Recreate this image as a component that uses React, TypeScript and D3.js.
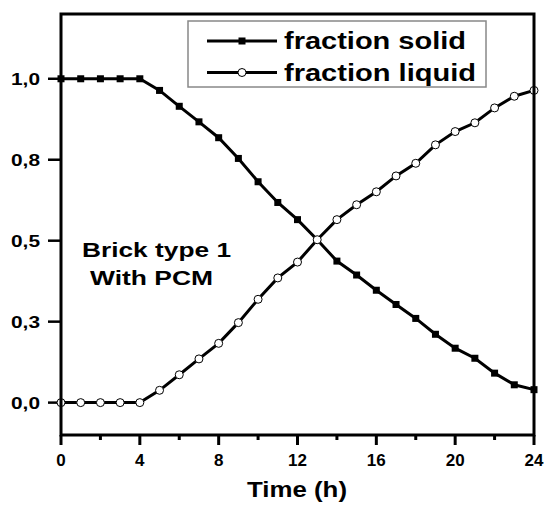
import React, { useEffect, useRef } from "react";
import * as d3 from "d3";

const W = 545;
const H = 509;
const margin = { top: 14, right: 11, bottom: 74, left: 61 };

const hours = d3.range(0, 25);
const fractionSolid = [
  1.0, 1.0, 1.0, 1.0, 1.0, 0.964, 0.915, 0.867, 0.818, 0.754, 0.682, 0.618, 0.565,
  0.503, 0.437, 0.394, 0.347, 0.303, 0.26, 0.211, 0.168, 0.137, 0.091, 0.055, 0.04,
];
const fractionLiquid = [
  0.0, 0.0, 0.0, 0.0, 0.0, 0.038, 0.086, 0.135, 0.183, 0.247, 0.319, 0.385, 0.434,
  0.503, 0.565, 0.611, 0.651, 0.7, 0.739, 0.796, 0.837, 0.864, 0.91, 0.946, 0.964,
];
const xTicks = [0, 4, 8, 12, 16, 20, 24];
const xMinorTicks = [2, 6, 10, 14, 18, 22];
const yTicks = [0, 0.25, 0.5, 0.75, 1.0];
const yTickLabels = ["0,0", "0,3", "0,5", "0,8", "1,0"];
const seriesNames = ["fraction solid", "fraction liquid"];
const noteLines = ["Brick type 1", "With PCM"];

const FONT = "'Liberation Sans', Arial, sans-serif";

export default function App() {
  const ref = useRef<SVGSVGElement>(null);

  useEffect(() => {
    const root = d3.select(ref.current);
    root.selectAll("*").remove();

    const width = W - margin.left - margin.right;
    const height = H - margin.top - margin.bottom;

    const x = d3.scaleLinear().domain([0, 24]).range([0, width]);
    const y = d3.scaleLinear().domain([-0.1, 1.2]).range([height, 0]);

    const svg = root.append("g")
      .attr("transform", "translate(" + margin.left + "," + margin.top + ")");

    // x axis ticks (major + minor) pointing outward
    const xAxis = svg.append("g").attr("transform", "translate(0," + height + ")");
    xAxis.selectAll(".major")
      .data(xTicks)
      .enter().append("line")
      .attr("x1", (d) => x(d)).attr("x2", (d) => x(d))
      .attr("y1", 0).attr("y2", 10)
      .attr("stroke", "#000").attr("stroke-width", 3);
    xAxis.selectAll(".minor")
      .data(xMinorTicks)
      .enter().append("line")
      .attr("x1", (d) => x(d)).attr("x2", (d) => x(d))
      .attr("y1", 0).attr("y2", 5)
      .attr("stroke", "#000").attr("stroke-width", 3);
    xAxis.selectAll("text")
      .data(xTicks)
      .enter().append("text")
      .attr("x", (d) => x(d))
      .attr("y", 31)
      .attr("text-anchor", "middle")
      .style("font-family", FONT)
      .style("font-weight", "bold")
      .style("font-size", "17px")
      .text((d) => d);

    // y axis ticks
    const yAxis = svg.append("g");
    yAxis.selectAll("line")
      .data(yTicks)
      .enter().append("line")
      .attr("x1", -13).attr("x2", 0)
      .attr("y1", (d) => y(d)).attr("y2", (d) => y(d))
      .attr("stroke", "#000").attr("stroke-width", 2.5);
    yAxis.selectAll("text")
      .data(yTicks)
      .enter().append("text")
      .attr("x", -21)
      .attr("y", (d) => y(d) + 6)
      .attr("text-anchor", "end")
      .attr("textLength", 29)
      .attr("lengthAdjust", "spacingAndGlyphs")
      .style("font-family", FONT)
      .style("font-weight", "bold")
      .style("font-size", "17px")
      .text((d, i) => yTickLabels[i]);

    // series
    const line = d3.line<number>()
      .x((d, i) => x(hours[i]))
      .y((d) => y(d));

    svg.append("path")
      .datum(fractionSolid)
      .attr("fill", "none")
      .attr("stroke", "#000")
      .attr("stroke-width", 3)
      .attr("d", line);
    svg.append("path")
      .datum(fractionLiquid)
      .attr("fill", "none")
      .attr("stroke", "#000")
      .attr("stroke-width", 3)
      .attr("d", line);

    svg.selectAll(".sq")
      .data(fractionSolid)
      .enter().append("rect")
      .attr("x", (d, i) => x(hours[i]) - 3.5)
      .attr("y", (d) => y(d) - 3.5)
      .attr("width", 7).attr("height", 7)
      .attr("fill", "#000");
    svg.selectAll(".ci")
      .data(fractionLiquid)
      .enter().append("circle")
      .attr("cx", (d, i) => x(hours[i]))
      .attr("cy", (d) => y(d))
      .attr("r", 4)
      .attr("fill", "#fff")
      .attr("stroke", "#000")
      .attr("stroke-width", 1);

    // frame
    svg.append("rect")
      .attr("x", 0).attr("y", 0)
      .attr("width", width).attr("height", height)
      .attr("fill", "none")
      .attr("stroke", "#000")
      .attr("stroke-width", 3);

    // annotation
    const noteX = [156.5, 151.5];
    const noteY = [257, 285];
    const noteW = [149, 123];
    noteLines.forEach((t, i) => {
      root.append("text")
        .attr("x", noteX[i] - noteW[i] / 2)
        .attr("y", noteY[i])
        .attr("textLength", noteW[i])
        .attr("lengthAdjust", "spacingAndGlyphs")
        .style("font-family", FONT)
        .style("font-weight", "bold")
        .style("font-size", "21px")
        .text(t);
    });

    // legend
    const lg = root.append("g");
    lg.append("rect")
      .attr("x", 188).attr("y", 21)
      .attr("width", 298).attr("height", 66)
      .attr("fill", "#fff")
      .attr("stroke", "#888")
      .attr("stroke-width", 1.5);
    seriesNames.forEach((name, i) => {
      const cy = 41 + i * 31.5;
      lg.append("line")
        .attr("x1", 207).attr("x2", 277)
        .attr("y1", cy).attr("y2", cy)
        .attr("stroke", "#000").attr("stroke-width", 3);
      if (i === 0) {
        lg.append("rect")
          .attr("x", 238.5).attr("y", cy - 3.5)
          .attr("width", 7).attr("height", 7)
          .attr("fill", "#000");
      } else {
        lg.append("circle")
          .attr("cx", 242).attr("cy", cy).attr("r", 4)
          .attr("fill", "#fff").attr("stroke", "#000").attr("stroke-width", 1);
      }
      lg.append("text")
        .attr("x", 284)
        .attr("y", cy + 8)
        .attr("textLength", i === 0 ? 182 : 192)
        .attr("lengthAdjust", "spacingAndGlyphs")
        .style("font-family", FONT)
        .style("font-weight", "bold")
        .style("font-size", "23px")
        .text(name);
    });

    // x axis title
    root.append("text")
      .attr("x", 297)
      .attr("y", 497)
      .attr("text-anchor", "middle")
      .attr("textLength", 100)
      .attr("lengthAdjust", "spacingAndGlyphs")
      .style("font-family", FONT)
      .style("font-weight", "bold")
      .style("font-size", "22px")
      .text("Time (h)");
  }, []);

  return (
    <svg
      ref={ref}
      width={W}
      height={H}
      style={{ position: "absolute", left: 0, top: 0, background: "#fff" }}
    ></svg>
  );
}
